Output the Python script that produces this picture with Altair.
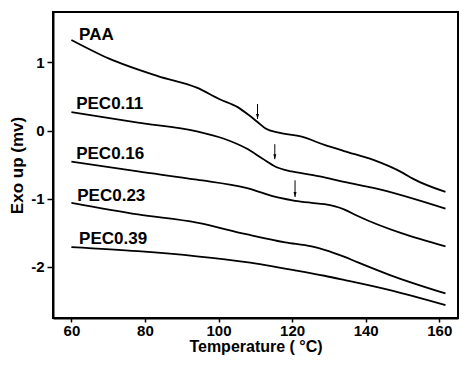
import altair as alt
import pandas as pd

# ---- data ----
paa_T = [60, 70.1, 83.5, 94.1, 100.3, 105.2, 108.4, 110.6, 112.8, 116.4, 122.6, 128.8, 134.1, 142.1, 150.1, 152.8, 161.7]
paa_v = [1.33, 1.06, 0.80, 0.63, 0.46, 0.344, 0.22, 0.126, 0.03, -0.03, -0.09, -0.21, -0.30, -0.43, -0.62, -0.705, -0.90]

p11_T = [60, 78.1, 94.1, 101.3, 107.5, 111.9, 115.5, 119.9, 125.3, 128.8, 134.1, 142.1, 161.7]
p11_v = [0.27, 0.116, -0.01, -0.116, -0.26, -0.41, -0.53, -0.60, -0.65, -0.686, -0.754, -0.84, -1.145]

p16_T = [60, 78.1, 94.1, 107.5, 116.4, 120.8, 125.3, 128.8, 134.1, 137.7, 161.7]
p16_v = [-0.455, -0.60, -0.72, -0.84, -0.985, -1.03, -1.06, -1.08, -1.155, -1.25, -1.70]

p23_T = [60, 78.1, 94.1, 107.5, 118.1, 125.3, 128.8, 134.1, 137.7, 146.6, 161.7]
p23_v = [-1.06, -1.23, -1.35, -1.52, -1.64, -1.70, -1.75, -1.85, -1.93, -2.12, -2.39]

p39_T = [60, 78.1, 94.1, 107.5, 120.8, 128.8, 134.1, 146.6, 161.7]
p39_v = [-1.71, -1.77, -1.845, -1.93, -2.05, -2.13, -2.19, -2.34, -2.56]

series_names = ["PAA", "PEC0.11", "PEC0.16", "PEC0.23", "PEC0.39"]
label_T = [62.1, 61.3, 61.3, 61.6, 62.1]
label_v = [1.40, 0.39, -0.35, -0.96, -1.59]

arrow_T = [110.6, 115.3, 120.8]
arrow_top = [0.39, -0.20, -0.73]
arrow_tip = [0.17, -0.42, -0.975]

x_ticks = [60, 80, 100, 120, 140, 160]
y_ticks = [-2, -1, 0, 1]

# ---- tables ----
rows = []
for name, Ts, vs in zip(series_names, [paa_T, p11_T, p16_T, p23_T, p39_T],
                        [paa_v, p11_v, p16_v, p23_v, p39_v]):
    for t, v in zip(Ts, vs):
        rows.append({"series": name, "T": t, "v": v})
curves = pd.DataFrame(rows)
labels = pd.DataFrame({"name": series_names, "T": label_T, "v": label_v})
arrows = pd.DataFrame({"T": arrow_T, "top": arrow_top, "tip": arrow_tip})

FONT = "Liberation Sans"
xs = alt.Scale(domain=[55, 165.1], nice=False, zero=False)
ys = alt.Scale(domain=[-2.75, 1.74], nice=False, zero=False)

x_axis = alt.Axis(values=x_ticks, title="Temperature ( °C)", tickSize=4, labelPadding=1,
                  titlePadding=0, labelExpr="datum.value", titleFontSize=16)
y_axis = alt.Axis(values=y_ticks, title="Exo up (mv)", tickSize=6, labelPadding=3,
                  titlePadding=4, labelExpr="datum.value")

lines = alt.Chart(curves).mark_line(color="black", strokeWidth=1.8, interpolate="monotone").encode(
    x=alt.X("T:Q", scale=xs, axis=x_axis),
    y=alt.Y("v:Q", scale=ys, axis=y_axis),
    detail="series:N",
)

texts = alt.Chart(labels).mark_text(align="left", baseline="middle", font=FONT,
                                    fontWeight="bold", fontSize=17, color="black").encode(
    x=alt.X("T:Q", scale=xs), y=alt.Y("v:Q", scale=ys), text="name:N"
)

shafts = alt.Chart(arrows).mark_rule(color="black", strokeWidth=1).encode(
    x=alt.X("T:Q", scale=xs), y=alt.Y("top:Q", scale=ys), y2="tip:Q"
)

heads = alt.Chart(arrows).mark_point(shape="M-0.6,-2L0.6,-2L0,0Z", filled=True, color="black",
                                     size=25, opacity=1).encode(
    x=alt.X("T:Q", scale=xs), y=alt.Y("tip:Q", scale=ys)
)

chart = alt.layer(lines, texts, shafts, heads).properties(
    width=405, height=306,
    autosize=alt.AutoSizeParams(type="none"),
    padding={"left": 45, "top": 4, "right": 1, "bottom": 38},
).configure_view(stroke="black", strokeWidth=2).configure_axis(
    grid=False, domainColor="black", domainWidth=2, tickColor="black", tickWidth=1.5,
    labelFont=FONT, labelFontWeight="bold", labelFontSize=15, labelColor="black",
    titleFont=FONT, titleFontWeight="bold", titleFontSize=17, titleColor="black",
)

chart.save("out.html", embed_options={"renderer": "svg", "actions": False})
